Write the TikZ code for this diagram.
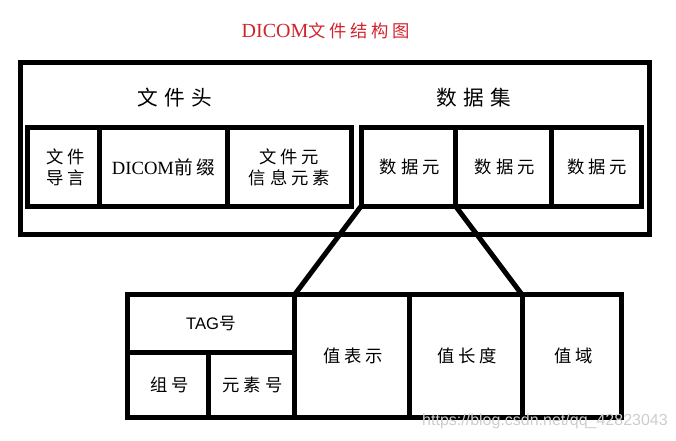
\documentclass[tikz,border=0pt]{standalone}
\usepackage{fontspec}
\setmainfont{Liberation Serif}
\setsansfont{Liberation Sans}
\newfontfamily\cjk[LetterSpace=22]{Noto Sans CJK SC}
\newfontfamily\cjkwide[LetterSpace=32]{Noto Sans CJK SC}
\definecolor{titlered}{RGB}{210,35,45}
\definecolor{wmark}{RGB}{205,205,205}
\newcommand\mkbox[6]{\node[box, minimum width={(#4-#2)*0.75pt}, minimum height={(#5-#3)*0.75pt}] (#1) at ({(#2+#4)/2},{(#3+#5)/2}) {#6};}
\begin{document}
\begin{tikzpicture}[x=0.75pt,y=-0.75pt,
  box/.style={draw, line width=3.75pt, inner sep=0pt, outer sep=0pt, align=center, font=\fontsize{13}{15.75}\selectfont},
  lbl/.style={inner sep=0pt, align=center},
  link/.style={line width=3.75pt, line cap=round}]
\useasboundingbox (0,0) rectangle (676,441);
% title
\node[lbl, text=titlered] (title) at (326,31) {\fontsize{15}{18}\selectfont DICOM{\cjk\fontsize{13}{16}\selectfont 文件结构图}};
% outer file box
\mkbox{file}{20}{63}{649}{234.5}{}
\node[lbl] (head) at (175,98) {\cjkwide\fontsize{15.5}{18}\selectfont 文件头};
\node[lbl] (dset) at (474,98) {\cjkwide\fontsize{15.5}{18}\selectfont 数据集};
% header cells
\mkbox{pre}{27.7}{128}{99.7}{206.3}{{\cjk\hspace{3pt}文件}\\{\cjk\hspace{3pt}导言}}
\mkbox{dcm}{99.7}{128}{227.7}{206.3}{\fontsize{14}{17}\selectfont DICOM{\cjk 前缀}}
\mkbox{meta}{227.7}{128}{351}{206.3}{\fontsize{13}{19.5}\selectfont{\cjk 文件元}\\{\cjk 信息元素}}
% data set cells
\mkbox{d1}{361}{128}{455.7}{206.3}{\cjk\hspace{2pt}数据元}
\mkbox{d2}{455.7}{128}{551}{206.3}{\cjk\hspace{2pt}数据元}
\mkbox{d3}{551}{128}{641}{206.3}{\cjk\hspace{2pt}数据元}
% data element detail
\mkbox{tag}{127.7}{295}{294.3}{353}{\fontsize{12.5}{14}\selectfont\sffamily TAG{\cjk 号}}
\mkbox{grp}{127.7}{353}{208.3}{417.5}{\cjk\hspace{2pt}组号}
\mkbox{elem}{208.3}{353}{294.3}{417.5}{\cjk\hspace{2pt}元素号}
\mkbox{vr}{294.3}{295}{409.7}{417.5}{\cjk\hspace{2pt}值表示}
\mkbox{vl}{409.7}{295}{522.3}{417.5}{\cjk\hspace{2pt}值长度}
\mkbox{vf}{522.3}{295}{621.7}{417.5}{\cjk\hspace{2pt}值域}
% zoom lines
\draw[link] (d1.south west) -- (vr.north west);
\draw[link] (d2.south west) -- (vf.north west);
% watermark
\node[lbl, text=wmark] (wm) at (545,421) {\sffamily\fontsize{12}{14}\selectfont https://blog.csdn.net/qq\_42823043};
\end{tikzpicture}
\end{document}
